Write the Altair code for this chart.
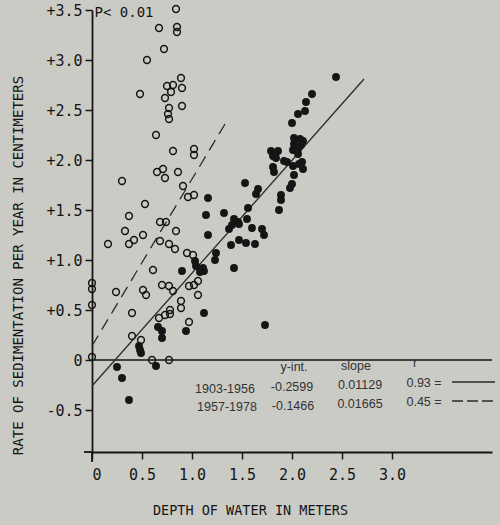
import altair as alt
import pandas as pd

# ---------------- data ----------------
# 1957-1978 (open circles): depth (m), sedimentation rate (cm / yr)
open_x = [0.84, 0.67, 0.85, 0.85, 0.72, 0.55, 0.89, 0.75, 0.81, 0.90,
          0.79, 0.73, 0.48, 0.90, 0.77, 0.76, 0.77, 0.64, 0.81, 1.02,
          1.02, 0.30, 0.65, 0.71, 0.73, 0.86, 0.91, 0.96, 1.02, 0.53,
          0.37, 0.68, 0.74, 0.84, 0.33, 0.51, 0.42, 0.16, 0.37, 0.68,
          0.77, 0.83, 0.95, 1.01, 0.61, 0.00, 0.00, 0.00, 0.24, 0.51,
          0.54, 0.70, 0.77, 0.81, 0.89, 0.89, 0.97, 1.02, 1.06, 1.06,
          0.40, 0.67, 0.73, 0.78, 0.78, 0.97, 0.40, 0.49, 0.00, 0.60,
          0.77]
open_y = [3.51, 3.32, 3.33, 3.28, 3.11, 3.00, 2.82, 2.74, 2.75, 2.72,
          2.68, 2.62, 2.66, 2.54, 2.52, 2.46, 2.41, 2.25, 2.09, 2.11,
          2.05, 1.79, 1.88, 1.91, 1.82, 1.88, 1.74, 1.63, 1.65, 1.56,
          1.44, 1.38, 1.38, 1.29, 1.29, 1.25, 1.20, 1.16, 1.16, 1.19,
          1.16, 1.11, 1.07, 1.05, 0.90, 0.77, 0.71, 0.55, 0.68, 0.70,
          0.65, 0.75, 0.74, 0.69, 0.59, 0.52, 0.74, 0.75, 0.79, 0.65,
          0.47, 0.42, 0.45, 0.50, 0.46, 0.38, 0.24, 0.20, 0.03, 0.00,
          0.00]

# 1903-1956 (filled dots)
filled_x = [2.44, 2.20, 2.14, 2.13, 2.06, 2.00, 2.02, 2.08, 2.11, 2.02,
            2.09, 2.01, 2.06, 2.06, 1.79, 1.86, 1.81, 1.84, 1.92, 1.95,
            2.01, 2.07, 2.10, 2.11, 1.81, 1.82, 2.02, 2.00, 1.98, 1.53,
            1.66, 1.64, 1.89, 1.89, 1.87, 1.56, 1.16, 1.14, 1.32, 1.42,
            1.46, 1.40, 1.47, 1.37, 1.55, 1.60, 1.70, 1.72, 1.16, 1.47,
            1.54, 1.63, 1.39, 1.24, 1.23, 1.42, 1.03, 1.04, 1.11, 1.12,
            1.08, 0.90, 1.12, 1.73, 0.66, 0.70, 0.70, 0.94, 0.47, 0.48,
            0.49, 0.25, 0.64, 0.30, 0.37]
filled_y = [2.83, 2.66, 2.58, 2.49, 2.46, 2.37, 2.22, 2.21, 2.19, 2.16,
            2.15, 2.10, 2.11, 2.06, 2.09, 2.09, 2.04, 2.02, 1.99, 1.98,
            1.94, 1.96, 1.98, 1.91, 1.93, 1.88, 1.85, 1.76, 1.72, 1.77,
            1.71, 1.66, 1.65, 1.60, 1.50, 1.52, 1.62, 1.45, 1.47, 1.41,
            1.38, 1.35, 1.36, 1.31, 1.41, 1.32, 1.31, 1.25, 1.25, 1.20,
            1.17, 1.16, 1.15, 1.07, 1.00, 0.92, 0.99, 0.94, 0.92, 0.89,
            0.88, 0.89, 0.47, 0.35, 0.33, 0.29, 0.22, 0.29, 0.14, 0.10,
            0.07, -0.07, -0.06, -0.18, -0.40]

# fitted lines as drawn in the figure (end points)
solid_x = [0.0, 2.72]
solid_y = [-0.26, 2.81]
dashed_x = [0.0, 1.33]
dashed_y = [0.14, 2.36]

# tick values
x_ticks = [0, 0.5, 1.0, 1.5, 2.0, 2.5, 3.0]
y_ticks = [-0.5, 0, 0.5, 1.0, 1.5, 2.0, 2.5, 3.0, 3.5]

# statistics table
table_text = ["y-int.", "slope", "r",
              "1903-1956", "-0.2599", "0.01129", "0.93 =",
              "1957-1978", "-0.1466", "0.01665", "0.45 ="]
table_x = [2.02, 2.64, 3.23,
           1.33, 2.00, 2.68, 3.32,
           1.35, 2.01, 2.68, 3.32]
table_y = [-0.07, -0.06, -0.03,
           -0.29, -0.27, -0.25, -0.23,
           -0.47, -0.46, -0.44, -0.42]
key_solid_x = [3.60, 4.03]
key_solid_y = [-0.22, -0.22]
key_dash_x = [3.60, 4.03]
key_dash_y = [-0.41, -0.41]

note_text = ["P< 0.01"]
note_x = [0.32]
note_y = [3.475]

# ---------------- styling ----------------
INK = "#151515"
BG = "#cbcbc6"
SANS = "Liberation Sans"
MONO = "DejaVu Sans Mono"

xs = alt.Scale(domain=[0, 4.0], nice=False, zero=False)
ys = alt.Scale(domain=[-0.92, 3.5], nice=False, zero=False)

x_axis = alt.Axis(values=x_ticks, grid=False, tickSize=7, tickWidth=1.5,
                  tickColor=INK, domainColor=INK, domainWidth=1.8,
                  labelFont=MONO, labelFontSize=15, labelColor=INK,
                  labelPadding=8,
                  labelExpr="datum.value == 0 ? '0' : format(datum.value, '.1f')",
                  title="DEPTH OF WATER IN METERS", titleFont=MONO,
                  titleFontSize=13.5, titleFontWeight="normal", titleColor=INK,
                  titleX=158, titleY=58, titleAlign="center",
                  titleBaseline="middle")
y_axis = alt.Axis(values=y_ticks, grid=False, tickSize=7, tickWidth=1.5,
                  tickColor=INK, domainColor=INK, domainWidth=1.8,
                  labelFont=MONO, labelFontSize=15, labelColor=INK,
                  labelPadding=3,
                  labelExpr="datum.value > 0 ? '+' + format(datum.value, '.1f') : (datum.value == 0 ? '0' : '-' + format(-datum.value, '.1f'))",
                  title="RATE OF SEDIMENTATION PER YEAR IN CENTIMETERS",
                  titleFont=MONO, titleFontSize=14, titleFontWeight="normal",
                  titleColor=INK, titleX=-74, titleY=255, titleAngle=270,
                  titleAlign="center", titleBaseline="middle")


def X(field="x"):
    return alt.X(f"{field}:Q", scale=xs, axis=x_axis)


def Y(field="y"):
    return alt.Y(f"{field}:Q", scale=ys, axis=y_axis)


# ---------------- layers ----------------
filled_df = pd.DataFrame({"x": filled_x, "y": filled_y})
open_df = pd.DataFrame({"x": open_x, "y": open_y})

filled_layer = alt.Chart(filled_df).mark_circle(size=62, color=INK, opacity=1).encode(
    x=X(), y=Y())
open_layer = alt.Chart(open_df).mark_point(shape="circle", filled=False, size=46,
                                           strokeWidth=1.5, color=INK, opacity=1).encode(
    x=X(), y=Y())

zero_df = pd.DataFrame({"x": [0.0], "x2": [4.0], "y": [0.0]})
zero_layer = alt.Chart(zero_df).mark_rule(color=INK, strokeWidth=1.6).encode(
    x=X(), x2="x2:Q", y=Y())

# small overshoots of the two axis lines past their crossing point
stub_df = pd.DataFrame({"x": [0.0], "y": [-0.92], "y2": [-1.02]})
stub_layer = alt.Chart(stub_df).mark_rule(color=INK, strokeWidth=1.8).encode(
    x=X(), y=Y(), y2="y2:Q")
stub2_df = pd.DataFrame({"x": [-0.08], "x2": [0.0], "y": [-0.92]})
stub2_layer = alt.Chart(stub2_df).mark_rule(color=INK, strokeWidth=1.8).encode(
    x=X(), x2="x2:Q", y=Y())

solid_df = pd.DataFrame({"x": solid_x, "y": solid_y})
solid_layer = alt.Chart(solid_df).mark_line(color="#2a2a2a", strokeWidth=1.3).encode(
    x=X(), y=Y())
dashed_df = pd.DataFrame({"x": dashed_x, "y": dashed_y})
dashed_layer = alt.Chart(dashed_df).mark_line(color="#2a2a2a", strokeWidth=1.3,
                                              strokeDash=[12, 7]).encode(
    x=X(), y=Y())

key_s_df = pd.DataFrame({"x": key_solid_x, "y": key_solid_y})
key_s_layer = alt.Chart(key_s_df).mark_line(color="#2a2a2a", strokeWidth=1.5).encode(
    x=X(), y=Y())
key_d_df = pd.DataFrame({"x": key_dash_x, "y": key_dash_y})
key_d_layer = alt.Chart(key_d_df).mark_line(color="#2a2a2a", strokeWidth=1.5,
                                            strokeDash=[11, 4]).encode(
    x=X(), y=Y())

table_df = pd.DataFrame({"t": table_text, "x": table_x, "y": table_y})
table_layer = alt.Chart(table_df).mark_text(font=SANS, fontSize=12.5, color="#333333",
                                            align="center", baseline="middle").encode(
    x=X(), y=Y(), text="t:N")

note_df = pd.DataFrame({"t": note_text, "x": note_x, "y": note_y})
note_layer = alt.Chart(note_df).mark_text(font=MONO, fontSize=14, color=INK,
                                          align="center", baseline="middle").encode(
    x=X(), y=Y(), text="t:N")

chart = alt.layer(
    zero_layer, stub_layer, stub2_layer, solid_layer, dashed_layer,
    key_s_layer, key_d_layer,
    filled_layer, open_layer, table_layer, note_layer,
).properties(
    width=400, height=442,
    padding={"left": 92, "top": 10, "right": 8, "bottom": 73},
    autosize=alt.AutoSizeParams(type="none"),
    background=BG,
).configure_view(stroke=None)

chart.save("out.html", embed_options={"renderer": "svg", "actions": False})
